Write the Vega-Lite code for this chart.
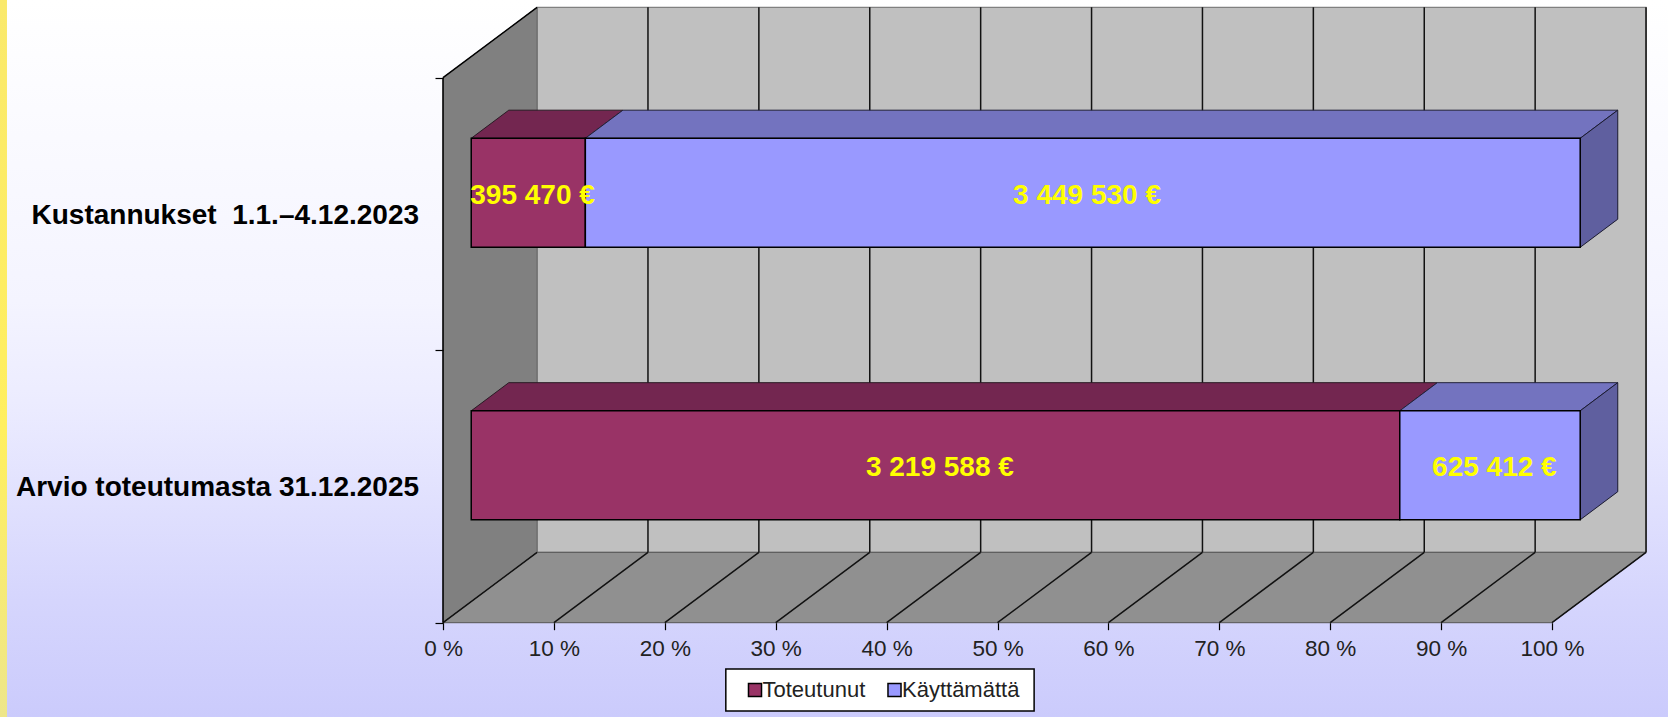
{
"$schema":"https://vega.github.io/schema/vega-lite/v6.json",
"width":1668,"height":717,"padding":0,
"autosize":{"type":"fit","contains":"padding"},
"background":"white",
"config":{"view":{"stroke":null},"font":"Liberation Sans"},
"datasets":{
"canvas":[{"x":-39.95,"x2":110.46,"y":-0.346,"y2":2.2851}],
"strip":[{"x":-39.95,"x2":-39.32,"y":-0.346,"y2":2.2851}],
"legendbox":[{"x":25.5,"x2":53.3,"y":-0.17,"y2":-0.324}],
"backwall":[{"x":8.48,"x2":108.48,"y":0.2583,"y2":2.2583}],
"leftwall":[{"x":0,"y":0,"y2":2},{"x":8.48,"y":0.2583,"y2":2.2583}],
"floor":[{"y":0,"x":0,"x2":100},{"y":0.2583,"x":8.48,"x2":108.48}],
"grid":[{"pct":0,"back":8.48},{"pct":10,"back":18.48},{"pct":20,"back":28.48},{"pct":30,"back":38.48},{"pct":40,"back":48.48},{"pct":50,"back":58.48},{"pct":60,"back":68.48},{"pct":70,"back":78.48},{"pct":80,"back":88.48},{"pct":90,"back":98.48},{"pct":100,"back":108.48}],
"bars":[
{"category":"Kustannukset  1.1.–4.12.2023","series":"Toteutunut","euro":"395 470 €","start":0,"end":10.29,"mid":5.14,"low":1.3,"high":1.7,"center":1.5},
{"category":"Kustannukset  1.1.–4.12.2023","series":"Käyttämättä","euro":"3 449 530 €","start":10.29,"end":100,"mid":55.14,"low":1.3,"high":1.7,"center":1.5},
{"category":"Arvio toteutumasta 31.12.2025","series":"Toteutunut","euro":"3 219 588 €","start":0,"end":83.73,"mid":41.87,"low":0.3,"high":0.7,"center":0.5},
{"category":"Arvio toteutumasta 31.12.2025","series":"Käyttämättä","euro":"625 412 €","start":83.73,"end":100,"mid":91.87,"low":0.3,"high":0.7,"center":0.5}],
"topfaces":[
{"bar":"a","series":"Toteutunut","y":1.7775,"x":2.54,"x2":12.83},
{"bar":"a","series":"Toteutunut","y":1.8808,"x":5.93,"x2":16.22},
{"bar":"a","series":"Käyttämättä","y":1.7775,"x":12.83,"x2":102.54},
{"bar":"a","series":"Käyttämättä","y":1.8808,"x":16.22,"x2":105.93},
{"bar":"b","series":"Toteutunut","y":0.7775,"x":2.54,"x2":86.27},
{"bar":"b","series":"Toteutunut","y":0.8808,"x":5.93,"x2":89.66},
{"bar":"b","series":"Käyttämättä","y":0.7775,"x":86.27,"x2":102.54},
{"bar":"b","series":"Käyttämättä","y":0.8808,"x":89.66,"x2":105.93}],
"sidefaces":[
{"bar":"a","x":102.54,"y":1.3775,"y2":1.7775},
{"bar":"a","x":105.93,"y":1.4808,"y2":1.8808},
{"bar":"b","x":102.54,"y":0.3775,"y2":0.7775},
{"bar":"b","x":105.93,"y":0.4808,"y2":0.8808}],
"categories":[{"category":"Kustannukset \u00a01.1.–4.12.2023","center":1.5},{"category":"Arvio toteutumasta 31.12.2025","center":0.5}]
},
"layer":[
{"data":{"name":"canvas"},
 "mark":{"type":"rect","color":{"gradient":"linear","x1":0,"y1":0,"x2":0,"y2":1,"stops":[{"offset":0,"color":"#FFFFFF"},{"offset":0.42,"color":"#F4F4FF"},{"offset":0.56,"color":"#ECECFF"},{"offset":0.84,"color":"#D5D5FD"},{"offset":1,"color":"#CBCBFC"}]}},
 "encoding":{
  "x":{"field":"x","type":"quantitative","scale":{"domain":[-39.95,110.46],"nice":false,"zero":false},
    "axis":{"orient":"bottom","offset":-94.3,"values":[0,10,20,30,40,50,60,70,80,90,100],"labelExpr":"datum.value + ' %'","domain":false,"grid":false,"title":null,"tickColor":"#000000","tickSize":7,"tickWidth":1.2,"labelFontSize":22.5,"labelColor":"#222222","labelPadding":8,"labelFont":"Liberation Sans","labelOverlap":false,"labelFlush":false,"zindex":1}},
  "x2":{"field":"x2"},
  "y":{"field":"y","type":"quantitative","scale":{"domain":[-0.346,2.2851],"nice":false,"zero":false},
    "axis":{"orient":"left","offset":-443,"values":[0,1,2],"labels":false,"domain":false,"grid":false,"title":null,"tickColor":"#000000","tickSize":8,"tickWidth":1.2,"zindex":1}},
  "y2":{"field":"y2"}}},
{"data":{"name":"strip"},
 "mark":{"type":"rect","color":{"gradient":"linear","x1":0,"y1":0,"x2":0,"y2":1,"stops":[{"offset":0,"color":"#FAE96B"},{"offset":0.6,"color":"#FFEF5F"},{"offset":1,"color":"#EEE68A"}]}},
 "encoding":{"x":{"field":"x","type":"quantitative"},"x2":{"field":"x2"},"y":{"field":"y","type":"quantitative"},"y2":{"field":"y2"}}},
{"data":{"name":"legendbox"},
 "mark":{"type":"rect","fill":"#FFFFFF","stroke":"#000000","strokeWidth":1.5},
 "encoding":{"x":{"field":"x","type":"quantitative"},"x2":{"field":"x2"},"y":{"field":"y","type":"quantitative"},"y2":{"field":"y2"}}},
{"data":{"name":"backwall"},
 "mark":{"type":"rect","fill":"#C0C0C0","stroke":"#808080","strokeWidth":1.2},
 "encoding":{"x":{"field":"x","type":"quantitative"},"x2":{"field":"x2"},"y":{"field":"y","type":"quantitative"},"y2":{"field":"y2"}}},
{"data":{"name":"leftwall"},
 "mark":{"type":"area","orient":"vertical","fill":"#808080","stroke":"#666666","strokeWidth":1},
 "encoding":{"x":{"field":"x","type":"quantitative"},"y":{"field":"y","type":"quantitative","stack":null},"y2":{"field":"y2"}}},
{"data":{"name":"floor"},
 "mark":{"type":"area","orient":"horizontal","fill":"#909090","stroke":"#555555","strokeWidth":1},
 "encoding":{"y":{"field":"y","type":"quantitative"},"x":{"field":"x","type":"quantitative","stack":null},"x2":{"field":"x2"}}},
{"data":{"name":"grid"},
 "mark":{"type":"rule","color":"#111111","strokeWidth":1.5},
 "encoding":{"x":{"field":"pct","type":"quantitative"},"x2":{"field":"back"},"y":{"datum":0,"type":"quantitative"},"y2":{"datum":0.2583}}},
{"data":{"name":"grid"},
 "transform":[{"filter":"datum.pct > 0"}],
 "mark":{"type":"rule","color":"#111111","strokeWidth":1.5},
 "encoding":{"x":{"field":"back","type":"quantitative"},"y":{"datum":0.2583,"type":"quantitative"},"y2":{"datum":2.2583}}},
{"data":{"name":"grid"},
 "transform":[{"filter":"datum.pct == 0"}],
 "mark":{"type":"rule","color":"#000000","strokeWidth":1.5},
 "encoding":{"x":{"field":"pct","type":"quantitative"},"y":{"datum":0,"type":"quantitative"},"y2":{"datum":2}}},
{"data":{"name":"grid"},
 "transform":[{"filter":"datum.pct == 0"}],
 "mark":{"type":"rule","color":"#000000","strokeWidth":1.5},
 "encoding":{"x":{"field":"pct","type":"quantitative"},"x2":{"field":"back"},"y":{"datum":2,"type":"quantitative"},"y2":{"datum":2.2583}}},
{"data":{"name":"topfaces"},
 "transform":[{"filter":"datum.series == 'Toteutunut'"}],
 "mark":{"type":"area","orient":"horizontal","fill":"#732650","stroke":"#2A1A24","strokeWidth":1},
 "encoding":{"detail":{"field":"bar"},"y":{"field":"y","type":"quantitative"},"x":{"field":"x","type":"quantitative","stack":null},"x2":{"field":"x2"}}},
{"data":{"name":"topfaces"},
 "transform":[{"filter":"datum.series == 'Käyttämättä'"}],
 "mark":{"type":"area","orient":"horizontal","fill":"#7373BF","stroke":"#22223A","strokeWidth":1},
 "encoding":{"detail":{"field":"bar"},"y":{"field":"y","type":"quantitative"},"x":{"field":"x","type":"quantitative","stack":null},"x2":{"field":"x2"}}},
{"data":{"name":"sidefaces"},
 "mark":{"type":"area","orient":"vertical","fill":"#5F5F9F","stroke":"#1A1A30","strokeWidth":1},
 "encoding":{"detail":{"field":"bar"},"x":{"field":"x","type":"quantitative"},"y":{"field":"y","type":"quantitative","stack":null},"y2":{"field":"y2"}}},
{"data":{"name":"bars"},
 "mark":{"type":"rect","stroke":"#000000","strokeWidth":1.5,"xOffset":28.2,"x2Offset":28.2,"yOffset":-21.1,"y2Offset":-21.1},
 "encoding":{
  "x":{"field":"start","type":"quantitative"},"x2":{"field":"end"},
  "y":{"field":"low","type":"quantitative"},"y2":{"field":"high"},
  "color":{"field":"series","type":"nominal","sort":null,"scale":{"domain":["Toteutunut","Käyttämättä"],"range":["#993366","#9999FF"]},
   "legend":{"orient":"none","legendX":736,"legendY":671,"direction":"horizontal","title":null,"padding":8,"symbolType":"square","symbolSize":170,"symbolStrokeColor":"#000000","symbolStrokeWidth":1.5,"symbolOpacity":1,"labelFontSize":22,"labelColor":"#222222","labelFont":"Liberation Sans","labelOffset":-3.5,"columnPadding":17.5,"offset":0}}}},
{"data":{"name":"bars"},
 "mark":{"type":"text","color":"#FFFF00","font":"Liberation Sans","fontWeight":"bold","fontSize":28,"xOffset":32.5,"yOffset":-18,"align":"center","baseline":"middle"},
 "encoding":{"x":{"field":"mid","type":"quantitative"},"y":{"field":"center","type":"quantitative"},"text":{"field":"euro"}}},
{"data":{"name":"categories"},
 "mark":{"type":"text","color":"#000000","font":"Liberation Sans","fontWeight":"bold","fontSize":28,"align":"right","baseline":"middle","dx":-24,"dy":2},
 "encoding":{"x":{"datum":0,"type":"quantitative"},"y":{"field":"center","type":"quantitative"},"text":{"field":"category"}}}
]
}
